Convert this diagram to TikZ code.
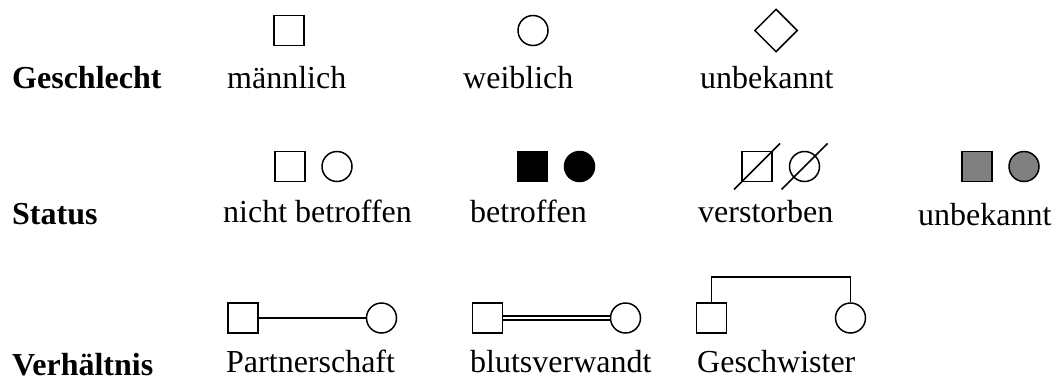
\documentclass[tikz,border=0pt]{standalone}
\usepackage{fontspec}
\setmainfont{Liberation Serif}
\usetikzlibrary{shapes.geometric}
\definecolor{unkgray}{gray}{0.5}
\begin{document}
\begin{tikzpicture}[x=1pt,y=-1pt,
  sym/.style={draw=black,line width=1.5pt,inner sep=0pt,minimum size=30pt},
  male/.style={sym,rectangle},
  female/.style={sym,circle},
  sexunknown/.style={sym,diamond,minimum size=43pt},
  affected/.style={fill=black},
  statusunknown/.style={fill=unkgray},
  txt/.style={anchor=base west,inner sep=0pt,font=\fontsize{32}{38}\selectfont},
  head/.style={txt,font=\fontsize{32}{38}\selectfont\bfseries},
  slash/.style={line width=1.5pt},
  partner/.style={line width=1.3pt},
  kin/.style={line width=1.5pt,double,double distance=2.2pt},
  sibs/.style={line width=1.6pt}
]
\useasboundingbox (0,0) rectangle (1060,381);

% --- Geschlecht ---
\node[head] (hsex) at (12,88) {Geschlecht};
\node[male] (m1) at (289,30.5) {};
\node[female] (f1) at (533,30.5) {};
\node[sexunknown] (u1) at (776,30.5) {};
\node[txt] (tm1) at (227,88) {männlich};
\node[txt] (tf1) at (463,88) {weiblich};
\node[txt] (tu1) at (700,88) {unbekannt};

% --- Status ---
\node[head] (hstat) at (12,224) {Status};
\node[male] (m2) at (290,166.5) {};
\node[female] (f2) at (337,166.5) {};
\node[male,affected] (m3) at (532.5,166.5) {};
\node[female,affected] (f3) at (579.5,166.5) {};
\node[male] (m4) at (757,166.5) {};
\node[female] (f4) at (804.5,166.5) {};
\draw[slash] ([shift={(-23,23)}]m4.center) -- ([shift={(23,-23)}]m4.center);
\draw[slash] ([shift={(-23,23)}]f4.center) -- ([shift={(23,-23)}]f4.center);
\node[male,statusunknown] (m5) at (977,166.5) {};
\node[female,statusunknown] (f5) at (1024,166.5) {};
\node[txt] (t2a) at (223,222) {nicht betroffen};
\node[txt] (t2b) at (470,222) {betroffen};
\node[txt] (t2c) at (698,222) {verstorben};
\node[txt] (t2d) at (918,225) {unbekannt};

% --- Verhältnis ---
\node[head] (hrel) at (12,375) {Verhältnis};
\node[male] (p1) at (243,318) {};
\node[female] (p2) at (381.5,318) {};
\draw[partner] (p1) -- (p2);
\node[male] (b1) at (487.5,318) {};
\node[female] (b2) at (625.5,318) {};
\draw[kin] (b1) -- (b2);
\node[male] (s1) at (711.5,318) {};
\node[female] (s2) at (850.5,318) {};
\draw[sibs] (s1.north) -- ++(0,-25) -| (s2.north);
\node[txt] (t3a) at (226,372) {Partnerschaft};
\node[txt] (t3b) at (470,372) {blutsverwandt};
\node[txt] (t3c) at (697,372) {Geschwister};
\end{tikzpicture}
\end{document}
